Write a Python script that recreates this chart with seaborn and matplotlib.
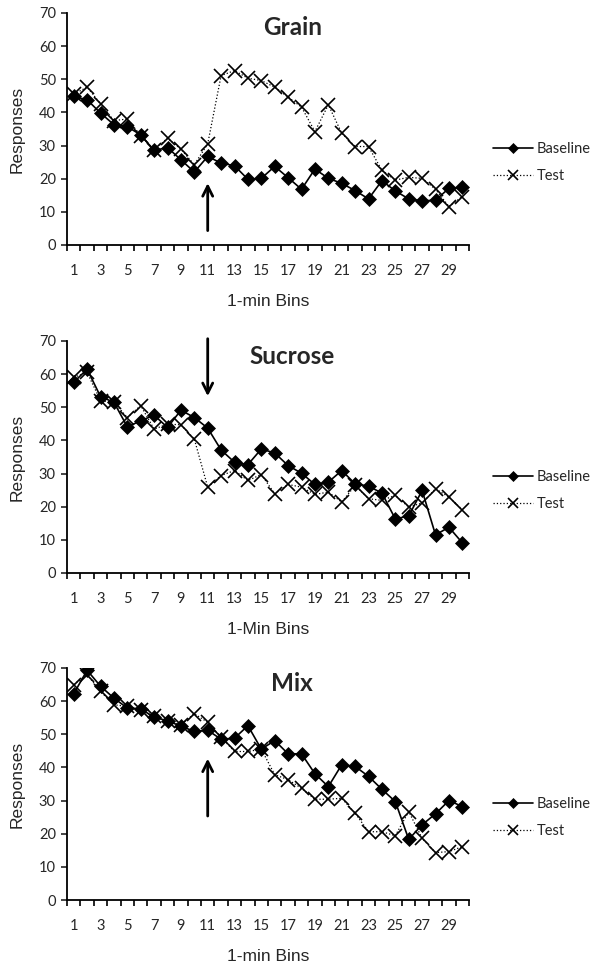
import numpy as np
import pandas as pd
import matplotlib
matplotlib.use('Agg')
import matplotlib.pyplot as plt
import seaborn as sns

# ── Data ───────────────────────────────────────────────────────────────────────
bins = list(range(1, 31))

grain_baseline = [44.8, 43.8, 39.8, 36.3, 35.7, 33.2, 28.5, 29.4, 25.7, 22.0,
                  26.7, 24.7, 23.9, 19.8, 20.1, 23.7, 20.3, 16.8, 22.9, 20.1,
                  18.6, 16.4, 13.9, 19.4, 16.3, 13.9, 13.3, 13.5, 17.1, 17.4]
grain_test = [45.5, 47.6, 42.6, 37.5, 38.0, 33.0, 28.7, 32.2, 28.9, 24.2,
              30.5, 51.1, 52.6, 50.3, 49.6, 47.6, 44.6, 41.6, 34.2, 42.3,
              33.7, 29.7, 29.7, 22.5, 19.6, 20.4, 20.1, 16.8, 11.6, 14.6]

sucrose_baseline = [57.5, 61.5, 53.2, 51.5, 44.1, 45.9, 47.6, 43.9, 49.1, 46.9,
                    43.7, 37.1, 33.4, 32.7, 37.4, 36.2, 32.4, 30.1, 26.7, 27.4,
                    30.9, 26.9, 26.2, 24.1, 16.3, 17.2, 24.9, 11.5, 13.8, 9.1]
sucrose_test = [59.0, 60.5, 52.0, 51.5, 46.9, 50.5, 43.4, 44.9, 44.7, 40.4,
                25.9, 29.4, 30.9, 27.9, 29.7, 23.9, 26.7, 25.9, 23.7, 24.4,
                21.4, 26.4, 22.4, 21.9, 23.4, 19.9, 21.1, 25.4, 22.9, 19.1]

mix_baseline = [62.2, 69.3, 64.5, 60.9, 57.9, 57.7, 55.1, 54.1, 52.4, 50.9,
                51.2, 48.5, 48.8, 52.6, 45.5, 48.1, 44.1, 44.1, 38.1, 34.2,
                40.8, 40.3, 37.3, 33.4, 29.7, 18.3, 22.7, 26.0, 30.0, 28.2]
mix_test = [65.0, 68.0, 62.9, 58.9, 58.4, 57.2, 55.4, 53.9, 52.9, 56.2,
            53.6, 49.1, 44.8, 44.8, 45.5, 37.8, 36.3, 33.7, 30.4, 30.4,
            30.7, 26.2, 20.6, 20.6, 19.4, 26.7, 18.6, 14.3, 14.6, 16.1]

titles = ['Grain', 'Sucrose', 'Mix']
xlabels = ['1-min Bins', '1-Min Bins', '1-min Bins']
# arrow (x, tail y, head y) for each panel
arrows = [(11, 3.5, 19.5), (11, 71.5, 52.5), (11, 24.5, 43.5)]

# ── Style ──────────────────────────────────────────────────────────────────────
sns.set_theme(style='ticks')
plt.rcParams['font.family'] = ['Lato', 'DejaVu Sans']

fig = plt.figure(figsize=(5.94, 9.71), dpi=100)
bottoms = [0.7477, 0.4099, 0.0731]

panels = [(grain_baseline, grain_test), (sucrose_baseline, sucrose_test),
          (mix_baseline, mix_test)]

for i, (base, test) in enumerate(panels):
    ax = fig.add_axes([0.1128, bottoms[i], 0.6768, 0.239])
    df = pd.DataFrame({'Bin': bins, 'Baseline': base, 'Test': test})

    sns.lineplot(data=df, x='Bin', y='Test', ax=ax, color='black',
                 linewidth=0.9, linestyle=':', marker='x', markersize=10,
                 markeredgewidth=1.2, markeredgecolor='black', label='Test')
    sns.lineplot(data=df, x='Bin', y='Baseline', ax=ax, color='black',
                 linewidth=1.2, marker='D', markersize=7.5,
                 markeredgecolor='black', markeredgewidth=0.5,
                 label='Baseline')

    ax.set_xlim(0.5, 30.5)
    ax.set_ylim(0, 70)
    ax.set_yticks(range(0, 71, 10))
    ax.set_xticks(np.arange(0.5, 31, 1))
    ax.set_xticklabels([])
    ax.set_xticks(bins[::2], minor=True)
    ax.set_xticklabels([str(b) for b in bins[::2]], minor=True)
    ax.tick_params(axis='x', which='major', length=4, width=1.2,
                   direction='out', color='black')
    ax.tick_params(axis='x', which='minor', length=0, pad=14,
                   labelsize=10.5)
    ax.tick_params(axis='y', length=4, width=1.2, labelsize=10.5, pad=4)

    for s in ['left', 'bottom']:
        ax.spines[s].set_linewidth(1.3)
        ax.spines[s].set_color('black')
    sns.despine(ax=ax)

    ax.set_xlabel(xlabels[i], family='Liberation Sans', fontsize=12.5,
                  labelpad=11)
    ax.set_ylabel('Responses', family='Liberation Sans', fontsize=12.5,
                  labelpad=10)

    ax.text(0.56, 0.935, titles[i], transform=ax.transAxes, ha='center',
            va='center', fontsize=17.5, fontweight='bold')

    ax_x, y0, y1 = arrows[i]
    ax.annotate('', xy=(ax_x, y1), xytext=(ax_x, y0), annotation_clip=False,
                arrowprops=dict(arrowstyle='->', color='black', lw=2,
                                mutation_scale=18))

    handles, labels = ax.get_legend_handles_labels()
    ax.legend(handles[::-1], labels[::-1], loc='center left',
              bbox_to_anchor=(1.045, 0.355), frameon=False, fontsize=10.5,
              handlelength=2.75, handletextpad=0.25, labelspacing=0.85,
              markerscale=0.7, borderaxespad=0)

plt.savefig('out.png', dpi=100)
plt.close()
